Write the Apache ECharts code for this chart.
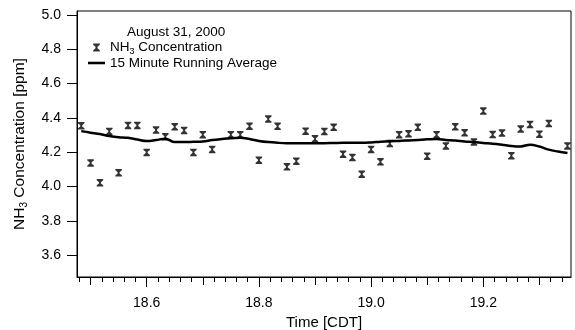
<!DOCTYPE html>
<html>
<head>
<meta charset="utf-8">
<script src="https://cdn.jsdelivr.net/npm/echarts@6/dist/echarts.min.js"></script>
<style>
html,body{margin:0;padding:0;background:#fff;}
#c{width:575px;height:330px;}
</style>
</head>
<body>
<div id="c"></div>
<script>
// Time in decimal hours (CDT), one sample per minute, 18:29 to 19:21
const timeHours = [18.4833,18.5000,18.5167,18.5333,18.5500,18.5667,18.5833,18.6000,18.6167,18.6333,
  18.6500,18.6667,18.6833,18.7000,18.7167,18.7333,18.7500,18.7667,18.7833,18.8000,
  18.8167,18.8333,18.8500,18.8667,18.8833,18.9000,18.9167,18.9333,18.9500,18.9667,
  18.9833,19.0000,19.0167,19.0333,19.0500,19.0667,19.0833,19.1000,19.1167,19.1333,
  19.1500,19.1667,19.1833,19.2000,19.2167,19.2333,19.2500,19.2667,19.2833,19.3000,
  19.3167,19.3333,19.3500];
// NH3 concentration (ppm); null = no sample
const nh3Concentration = [4.354,4.138,4.022,4.321,4.080,4.356,4.356,4.199,4.329,4.290,
  4.348,4.327,4.199,4.302,4.216,null,4.302,4.302,4.352,4.154,
  4.393,4.351,4.115,4.148,4.323,4.278,4.321,4.345,4.189,4.170,
  4.072,4.216,4.144,4.251,4.302,4.307,4.345,4.177,4.302,4.237,
  4.348,4.313,4.260,4.440,4.303,4.312,4.180,4.335,4.362,4.305,
  4.368,null,4.237];
// 15 minute running average (ppm)
const runningAverage = [4.323,4.314,4.306,4.294,4.288,4.284,4.274,4.265,4.271,4.279,
  4.259,4.259,4.261,4.263,4.271,4.277,4.282,4.284,4.277,4.266,
  4.259,4.255,4.253,4.253,4.253,4.253,4.253,4.254,4.255,4.255,
  4.255,4.257,4.261,4.264,4.266,4.269,4.272,4.275,4.277,4.272,
  4.268,4.263,4.259,4.254,4.250,4.244,4.237,4.234,4.244,4.233,
  4.215,4.204,4.195];
// Axis ticks
const xMajorTicks = [18.6,18.8,19.0,19.2];
const xMidTicks = [18.5,18.7,18.9,19.1,19.3];
const xMinorTicks = [18.48,18.50,18.52,18.54,18.56,18.58,18.60,18.62,18.64,18.66,18.68,18.70,18.72,18.74,18.76,18.78,
  18.80,18.82,18.84,18.86,18.88,18.90,18.92,18.94,18.96,18.98,19.00,19.02,19.04,19.06,19.08,19.10,19.12,19.14,
  19.16,19.18,19.20,19.22,19.24,19.26,19.28,19.30,19.32,19.34];
const yTicks = [3.6,3.8,4.0,4.2,4.4,4.6,4.8,5.0];
const legendTitle = 'August 31, 2000';
const seriesNames = ['NH3 Concentration','15 Minute Running Average'];

const FONT = 'Liberation Sans, Arial, sans-serif';
const X_MIN = 18.4758, X_MAX = 19.3563, Y_MIN = 3.473, Y_MAX = 5.023;
const markerPath = 'path://M0,0H10V2L6.5,5V7L10,10V12H0V10L3.5,7V5L0,2Z';
const lineIcon = 'path://M0,0H20V3H0Z';

const scatterData = timeHours.map((t,i)=>[t, nh3Concentration[i]]).filter(d=>d[1]!==null);
const avgData = timeHours.map((t,i)=>[t, runningAverage[i]]);

function xAx(ticks, len, showLabel){
  return {
    type:'value', min:X_MIN, max:X_MAX, position:'bottom', gridIndex:0,
    axisLine:{show:showLabel, onZero:false, lineStyle:{color:'#000',width:1}},
    axisTick:{show:true, inside:false, length:len, customValues:ticks, lineStyle:{color:'#000',width:1}},
    axisLabel:{show:showLabel, customValues:ticks, margin:19, color:'#000', fontSize:14, fontFamily:FONT,
      formatter:v=>v.toFixed(1)},
    splitLine:{show:false}, minorTick:{show:false},
    name: showLabel ? 'Time [CDT]' : '', nameLocation:'middle', nameGap:37,
    nameTextStyle:{color:'#000', fontSize:15, fontFamily:FONT}
  };
}

const chart = echarts.init(document.getElementById('c'), null, {renderer:'canvas'});
chart.setOption({
  animation:false,
  backgroundColor:'#fff',
  textStyle:{fontFamily:FONT},
  grid:{left:77, right:4, top:11, bottom:53, show:true, borderColor:'#000', borderWidth:1, containLabel:false, outerBoundsMode:'none'},
  title:{text:legendTitle, left:127, top:25, padding:0, textStyle:{color:'#000', fontSize:13.5, fontWeight:'normal', fontFamily:FONT}},
  legend:{
    orient:'vertical', left:88, top:39, padding:0, itemGap:0, itemWidth:17, itemHeight:8,
    data:[{name:seriesNames[0], icon:markerPath},{name:seriesNames[1], icon:lineIcon}],
    textStyle:{color:'#000', fontSize:13.5, fontFamily:FONT,
      rich:{a:{fontSize:13.5, fontFamily:FONT, color:'#000', lineHeight:14.5},
            s:{fontSize:9, fontFamily:FONT, color:'#000', lineHeight:14.5, padding:[8,0,0,0]}}},
    formatter:n => n===seriesNames[0] ? '{a|NH}{s|3}{a| Concentration}' : '{a|'+n+'}'
  },
  xAxis:[xAx(xMajorTicks,10,true), xAx(xMidTicks,8,false), xAx(xMinorTicks,5,false)],
  yAxis:{
    type:'value', min:Y_MIN, max:Y_MAX,
    axisLine:{show:true, onZero:false, lineStyle:{color:'#000',width:1}},
    axisTick:{show:true, length:10, customValues:yTicks, lineStyle:{color:'#000'}},
    axisLabel:{customValues:yTicks, margin:16, color:'#000', fontSize:14, fontFamily:FONT, formatter:v=>v.toFixed(1)},
    splitLine:{show:false},
    name:'{a|NH}{s|3}{a| Concentration [ppm]}', nameLocation:'middle', nameGap:49,
    nameTextStyle:{color:'#000', fontSize:15.5, fontFamily:FONT,
      rich:{a:{fontSize:15.5, fontFamily:FONT, color:'#000', lineHeight:17},
            s:{fontSize:10, fontFamily:FONT, color:'#000', lineHeight:17, padding:[9,0,0,0]}}}
  },
  series:[
    {name:seriesNames[0], type:'scatter', xAxisIndex:0, data:scatterData, symbol:markerPath, symbolSize:[6.5,7.5],
     itemStyle:{color:'#000'}, z:3},
    {name:seriesNames[1], type:'line', xAxisIndex:0, data:avgData, smooth:0.4, showSymbol:false, symbol:'none',
     lineStyle:{color:'#000', width:2.5}, itemStyle:{color:'#000'}, z:2}
  ]
});
</script>
</body>
</html>
